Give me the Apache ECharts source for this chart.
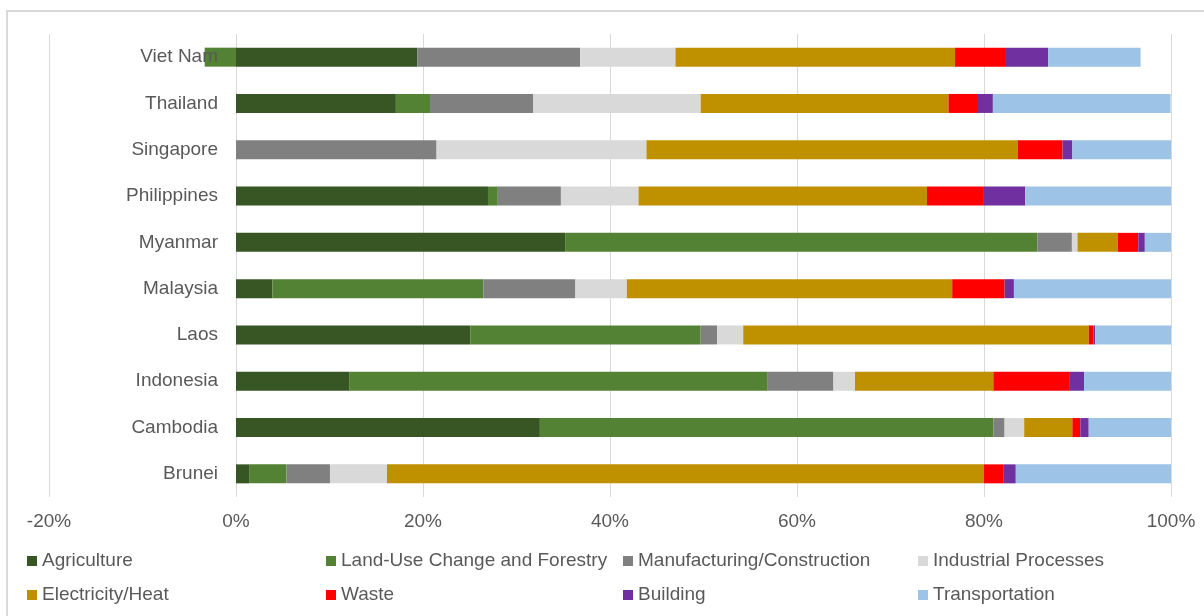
<!DOCTYPE html>
<html>
<head>
<meta charset="utf-8">
<script src="https://cdn.jsdelivr.net/npm/echarts@6/dist/echarts.min.js"></script>
<style>html,body{margin:0;padding:0;background:#fff}#c{width:1204px;height:616px}</style>
</head>
<body>
<div id="c"></div>
<script>
const countries = ['Brunei','Cambodia','Indonesia','Laos','Malaysia','Myanmar','Philippines','Singapore','Thailand','Viet Nam'];
const agriculture   = [1.4, 32.5, 12.1, 25.05, 3.9, 35.2, 26.95, 0, 17.1, 19.4];
const landUse       = [4.0, 48.5, 44.7, 24.65, 22.55, 50.5, 1.05, 0, 3.65, -3.35];
const manufacturing = [4.65, 1.2, 7.1, 1.75, 9.85, 3.7, 6.75, 21.45, 11.05, 17.4];
const industrial    = [6.1, 2.1, 2.3, 2.8, 5.5, 0.6, 8.3, 22.45, 17.9, 10.2];
const electricity   = [63.85, 5.15, 14.8, 36.95, 34.8, 4.3, 30.85, 39.7, 26.5, 29.9];
const waste         = [2.05, 0.85, 8.1, 0.5, 5.6, 2.2, 6.0, 4.8, 3.05, 5.45];
const building      = [1.35, 0.9, 1.6, 0.2, 1.0, 0.7, 4.5, 1.05, 1.7, 4.5];
const transport     = [16.6, 8.8, 9.3, 8.1, 16.8, 2.8, 15.6, 10.55, 19.0, 9.9];
const xTicks = [-20, 0, 20, 40, 60, 80, 100];

const seriesDefs = [
  ['Agriculture', agriculture, '#375623'],
  ['Land-Use Change and Forestry', landUse, '#548235'],
  ['Manufacturing/Construction', manufacturing, '#808080'],
  ['Industrial Processes', industrial, '#d9d9d9'],
  ['Electricity/Heat', electricity, '#bf9000'],
  ['Waste', waste, '#ff0000'],
  ['Building', building, '#7030a0'],
  ['Transportation', transport, '#9dc3e6']
];
const legendPos = [[27,551],[326,551],[623,551],[918,551],[27,585],[326,585],[623,585],[918,585]];
const font = 'Liberation Sans, Arial, sans-serif';
const txt = '#595959';
const gridLeft = 49, gridRight = 33;
const plotWidth = 1204 - gridLeft - gridRight;
const zeroOffset = plotWidth * (0 - xTicks[0]) / (xTicks[xTicks.length-1] - xTicks[0]);

const chart = echarts.init(document.getElementById('c'), null, {renderer:'canvas'});
chart.setOption({
  animation: false,
  graphic: [{type:'rect', shape:{x:7, y:11, width:1300, height:700}, style:{fill:'none', stroke:'#d9d9d9', lineWidth:2}, silent:true}],
  grid: {left:gridLeft, right:gridRight, top:34, bottom:119, containLabel:false, outerBoundsMode:'none'},
  legend: seriesDefs.map((s,i)=>({
    data:[s[0]], left:legendPos[i][0], top:legendPos[i][1], padding:0,
    itemWidth:10, itemHeight:10, icon:'rect', selectedMode:false,
    textStyle:{color:txt, fontSize:19, fontFamily:font, lineHeight:20}
  })),
  xAxis: {
    type:'value', min:xTicks[0], max:xTicks[xTicks.length-1], interval:20,
    axisLine:{show:false}, axisTick:{show:false},
    splitLine:{show:true, lineStyle:{color:'#d9d9d9', width:1}},
    axisLabel:{formatter:'{value}%', color:txt, fontSize:19, fontFamily:font, margin:15}
  },
  yAxis: {
    type:'category', data:countries, z:10, offset:-zeroOffset,
    axisLine:{show:false, onZero:false}, axisTick:{show:false},
    axisLabel:{color:txt, fontSize:19, fontFamily:font, margin:18}
  },
  series: seriesDefs.map(s=>({
    name:s[0], type:'bar', stack:'total', data:s[1], barWidth:'41%',
    itemStyle:{color:s[2]}
  }))
});
</script>
</body>
</html>
